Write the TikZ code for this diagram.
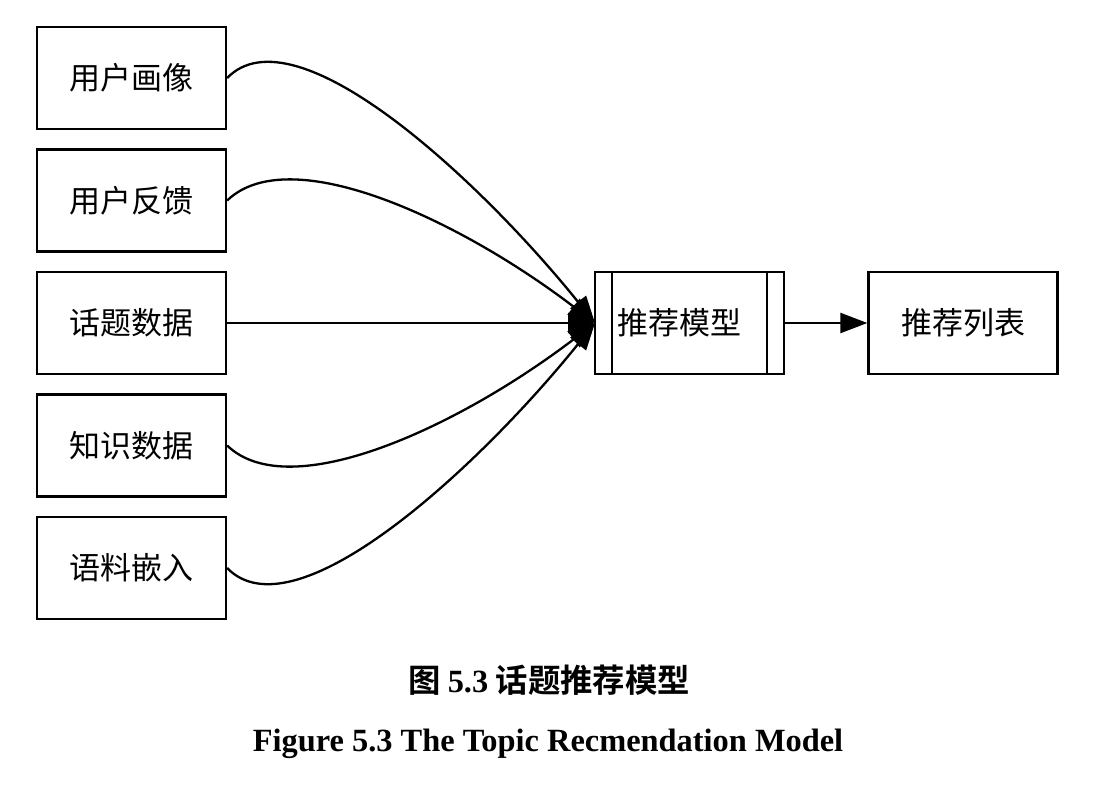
\documentclass[tikz,border=0pt]{standalone}
\usepackage{fontspec}
\setmainfont{Liberation Serif}
\newfontfamily\cjk{Noto Sans CJK SC}
\newfontfamily\cjkb{Noto Sans CJK SC Bold}
\usetikzlibrary{arrows.meta}
\begin{document}
\begin{tikzpicture}[x=1pt,y=-1pt,
  box/.style={draw,line width=2.3pt,minimum width=189pt,minimum height=102pt,inner sep=0pt,font=\cjk\fontsize{31}{36}\selectfont},
  conn/.style={line width=2.3pt,-{Triangle[length=27pt,width=20pt]}}]
\useasboundingbox (0,0) rectangle (1110,788);
\node[box] (a) at (131.5,78) {用户画像};
\node[box] (b) at (131.5,200.5) {用户反馈};
\node[box] (c) at (131.5,323) {话题数据};
\node[box] (d) at (131.5,445.5) {知识数据};
\node[box] (e) at (131.5,568) {语料嵌入};
\node[box] (m) at (689.5,323) {\hspace*{-20pt}推荐模型};
\draw[line width=2.3pt] ([xshift=18pt]m.north west) -- ([xshift=18pt]m.south west);
\draw[line width=2.3pt] ([xshift=-18pt]m.north east) -- ([xshift=-18pt]m.south east);
\node[box] (o) at (963,323) {推荐列表};
\coordinate (t) at (595,323);
\draw[conn] (a.east) .. controls (295,8) and (480,180) .. (t);
\draw[conn] (b.east) .. controls (290,140) and (460,220) .. (t);
\draw[conn] (c.east) -- (t);
\draw[conn] (d.east) .. controls (290,506) and (460,426) .. (t);
\draw[conn] (e.east) .. controls (295,638) and (480,466) .. (t);
\draw[conn] (m.east) -- (o.west);
\node (cap1) at (549,680) {\cjkb\fontsize{32.4}{36}\selectfont 图 \textbf{\fontspec{Liberation Serif}5.3} 话题推荐模型};
\node (cap2) at (548,744) {\bfseries\fontsize{32.4}{36}\selectfont Figure 5.3 The Topic Recmendation Model};
\end{tikzpicture}
\end{document}
